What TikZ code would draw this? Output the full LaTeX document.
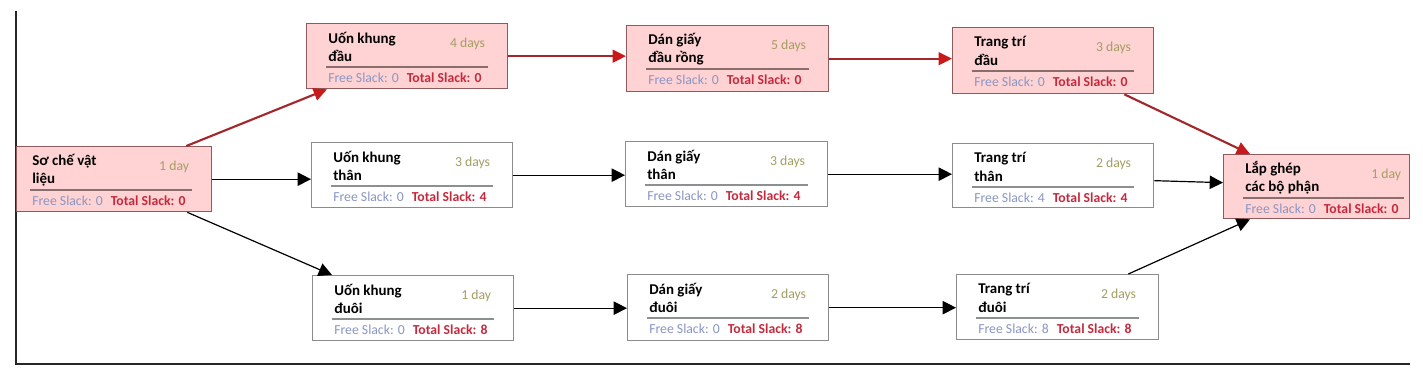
\documentclass[tikz,border=0pt]{standalone}
\usepackage{fontspec}
\setmainfont{Carlito}
\usetikzlibrary{arrows.meta}
\definecolor{critfill}{HTML}{FFD3D3}
\definecolor{critdraw}{HTML}{8E5A5C}
\definecolor{normdraw}{HTML}{8C8C8C}
\definecolor{critsep}{HTML}{8A6E6E}
\definecolor{normsep}{HTML}{8C9090}
\definecolor{durc}{HTML}{A39E62}
\definecolor{freec}{HTML}{8A95C4}
\definecolor{totc}{HTML}{C42A3E}
\definecolor{critline}{HTML}{A3282C}
\definecolor{crittip}{HTML}{C81A1A}
\tikzset{
  taskbox/.style={rectangle,anchor=north west,inner sep=0pt,line width=1pt},
  crit/.style={fill=critfill,draw=critdraw},
  norm/.style={fill=white,draw=normdraw},
  critsepl/.style={draw=critsep,line width=1pt},
  normsepl/.style={draw=normsep,line width=1pt},
  tasktitle/.style={anchor=west,align=left,inner sep=0pt,font=\bfseries\fontsize{11.2}{13.8}\selectfont},
  taskdur/.style={anchor=east,inner sep=0pt,text=durc,font=\fontsize{10.3}{12}\selectfont},
  taskslack/.style={anchor=west,inner sep=0pt,font=\fontsize{10.3}{12}\selectfont},
  flow/.style={draw=black,line width=0.9pt,-{Triangle[length=10pt,width=10pt]}},
  critflow/.style={draw=critline,line width=1.6pt,-{Triangle[length=10pt,width=9.5pt,color=crittip]}},
  frameline/.style={draw=black!85,line width=1.3pt}
}
\def\inL{22}\def\inR{23}
\newcommand\task[9]{%
  \ifnum#9=0 \tikzset{curbox/.style=crit,cursep/.style=critsepl}\else\tikzset{curbox/.style=norm,cursep/.style=normsepl}\fi
  \node[taskbox,curbox,minimum width={#4*0.75pt},minimum height={#5*0.75pt}] (#1) at (#2,#3) {};
  \node[tasktitle] (#1t) at ([shift={(\inL,24)}]#1.north west) {#6};
  \node[taskdur] (#1d) at ([shift={(-\inR,21)}]#1.north east) {#7};
  \draw[cursep] ([shift={(\inL-2,44)}]#1.north west) -- ([shift={(3-\inR,44)}]#1.north east);
  \node[taskslack] (#1s) at ([shift={(\inL,55)}]#1.north west) {{\color{freec}Free Slack: #8}\hspace{6pt}{\color{totc}\bfseries Total Slack: #9}};
}
\begin{document}
\begin{tikzpicture}[x=0.75pt,y=-0.75pt]
\useasboundingbox (0,0) rectangle (1423,389);
\draw[frameline] (16,11) -- (16,364) -- (1410,364);
\def\inL{16}
\task{s}{16}{146}{195}{65}{Sơ chế vật\\liệu}{1 day}{0}{0}
\def\inL{22}
\task{ud}{306}{23}{201}{65}{Uốn khung\\đầu}{4 days}{0}{0}
\task{dd}{626}{25}{202}{66}{Dán giấy\\đầu rồng}{5 days}{0}{0}
\task{td}{952}{27}{201}{66}{Trang trí\\đầu}{3 days}{0}{0}
\task{ut}{311}{142}{201}{65}{Uốn khung\\thân}{3 days}{0}{4}
\task{dt}{625}{141}{202}{65}{Dán giấy\\thân}{3 days}{0}{4}
\task{tt}{952}{143}{201}{64}{Trang trí\\thân}{2 days}{4}{4}
\task{uu}{312}{275}{201}{65}{Uốn khung\\đuôi}{1 day}{0}{8}
\task{du}{627}{274}{201}{66}{Dán giấy\\đuôi}{2 days}{0}{8}
\task{tu}{956}{274}{202}{65}{Trang trí\\đuôi}{2 days}{8}{8}
\def\inR{9}
\task{l}{1223}{154}{186}{64}{Lắp ghép\\các bộ phận}{1 day}{0}{0}
% connectors
\draw[critflow] ([shift={(-26,0)}]s.north east) -- ([shift={(21,0)}]ud.south west);
\draw[flow] (s.east) -- (s.east -| ut.west);
\draw[flow] ([shift={(-25,0)}]s.south east) -- ([shift={(20,0)}]uu.north west);
\draw[critflow] (ud.east) -- (ud.east -| dd.west);
\draw[critflow] (dd.east) -- (dd.east -| td.west);
\draw[critflow] ([shift={(-30,0)}]td.south east) -- ([shift={(27,0)}]l.north west);
\draw[flow] (ut.east) -- (ut.east -| dt.west);
\draw[flow] (dt.east) -- (dt.east -| tt.west);
\draw[flow] ([shift={(0,5)}]tt.east) -- ([shift={(0,-4)}]l.west);
\draw[flow] (uu.east) -- (uu.east -| du.west);
\draw[flow] (du.east) -- (du.east -| tu.west);
\draw[flow] ([shift={(-31,0)}]tu.north east) -- ([shift={(27,0)}]l.south west);
\end{tikzpicture}
\end{document}
